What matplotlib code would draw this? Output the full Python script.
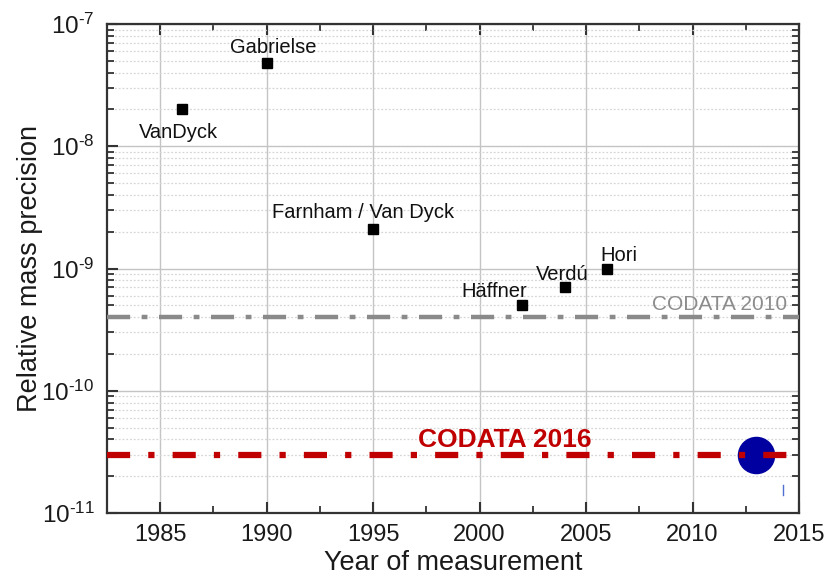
import matplotlib
matplotlib.use("Agg")
import matplotlib.pyplot as plt
from matplotlib.ticker import LogLocator, MultipleLocator, NullFormatter, FuncFormatter, FixedLocator
import numpy as np

plt.rcParams['font.family'] = ['Liberation Sans', 'DejaVu Sans']
plt.rcParams['mathtext.fontset'] = 'custom'
plt.rcParams['mathtext.rm'] = 'Liberation Sans'
plt.rcParams['mathtext.it'] = 'Liberation Sans'

# measurements: year, relative precision, label
years = [1986, 1990, 1995, 2002, 2004, 2006]
precision = [2.0e-8, 4.8e-8, 2.1e-9, 5.0e-10, 7.0e-10, 1.0e-9]
names = ["VanDyck", "Gabrielse", "Farnham / Van Dyck", "Häffner", "Verdú", "Hori"]
# label offsets in pixels (dx, dy) and vertical alignment
label_offsets = [(-3, -14, 'top'), (7, 10, 'baseline'), (-10, 11, 'baseline'),
                 (-28, 8, 'baseline'), (-2, 7, 'baseline'), (12, 8, 'baseline')]

codata_2010 = 4.0e-10
codata_2016 = 3.0e-11
new_year = 2013
new_precision = 3.0e-11

decades = [1e-11, 1e-10, 1e-9, 1e-8, 1e-7]

fig = plt.figure(figsize=(8.27, 5.79), dpi=100)
ax = fig.add_axes([0.1294, 0.114, 0.8367, 0.8445])

ax.set_yscale('log')
ax.set_xlim(1982.5, 2015)
ax.set_ylim(1e-11, 1e-7)

# grid: solid major lines, dotted minor lines on y
ax.grid(True, which='major', color='#c4c4c4', lw=1.0, ls='-')
ax.grid(True, which='minor', axis='y', color='#d6d6d6', lw=0.9, ls=(0, (1.5, 1.5)))
ax.set_axisbelow(True)

# CODATA reference lines
ax.axhline(codata_2010, color='#8a8a8a', lw=3.2, dashes=(5.2, 2.6, 1.3, 2.6), zorder=3)
ax.annotate("CODATA 2010", xy=(2014.45, codata_2010), xytext=(0, 7),
            textcoords='offset pixels', ha='right', va='baseline',
            fontsize=15, color='#8c8c8c', zorder=4)

# new measurement
ax.plot([new_year], [new_precision], 'o', ms=26, color='#0000a0', mec='#0000a0', zorder=4)
ax.plot([2014.25, 2014.25], [1.4e-11, 1.7e-11], color='#5070d0', lw=1.0, zorder=4)

ax.axhline(codata_2016, color='#c00000', lw=4.5, dashes=(3.7, 2.9, 1.0, 2.9), zorder=5)
ax.annotate("CODATA 2016", xy=(2001.2, codata_2016), xytext=(0, 8),
            textcoords='offset pixels', ha='center', va='baseline',
            fontsize=19, fontweight='bold', color='#c00000', zorder=6)

# earlier measurements
ax.plot(years, precision, 's', ms=6.5, color='black', zorder=6)
for x, y, name, (dx, dy, va) in zip(years, precision, names, label_offsets):
    ax.annotate(name, xy=(x, y), xytext=(dx, dy), textcoords='offset pixels',
                ha='center', va=va, fontsize=14.5, color='#111111', zorder=7)


def decade_label(v, pos):
    n = int(round(np.log10(v)))
    return r"$10^{\text{%d}}$" % n


# ticks
ax.xaxis.set_major_locator(MultipleLocator(5))
ax.xaxis.set_minor_locator(MultipleLocator(2.5))
ax.yaxis.set_major_locator(FixedLocator(decades))
ax.yaxis.set_major_formatter(FuncFormatter(decade_label))
ax.yaxis.set_minor_locator(LogLocator(base=10, subs=range(2, 10), numticks=20))
ax.yaxis.set_minor_formatter(NullFormatter())
ax.tick_params(which='both', direction='in', top=True, right=True,
               colors='#333333', labelcolor='#1a1a1a')
ax.tick_params(which='major', length=8, width=1.5, labelsize=17, pad=8)
ax.tick_params(axis='y', which='major', labelsize=17.5, pad=9)
ax.tick_params(which='minor', length=5, width=1.3)
ax.tick_params(axis='y', which='major', right=False)

for sp in ax.spines.values():
    sp.set_linewidth(1.6)
    sp.set_color('#333333')

ax.set_xlabel("Year of measurement", fontsize=19.5, color='#1a1a1a')
ax.set_ylabel("Relative mass precision", fontsize=19.5, color='#1a1a1a')
ax.xaxis.set_label_coords(0.5, -0.076)
ax.yaxis.set_label_coords(-0.093, 0.5)

fig.savefig("out.png", dpi=100)
